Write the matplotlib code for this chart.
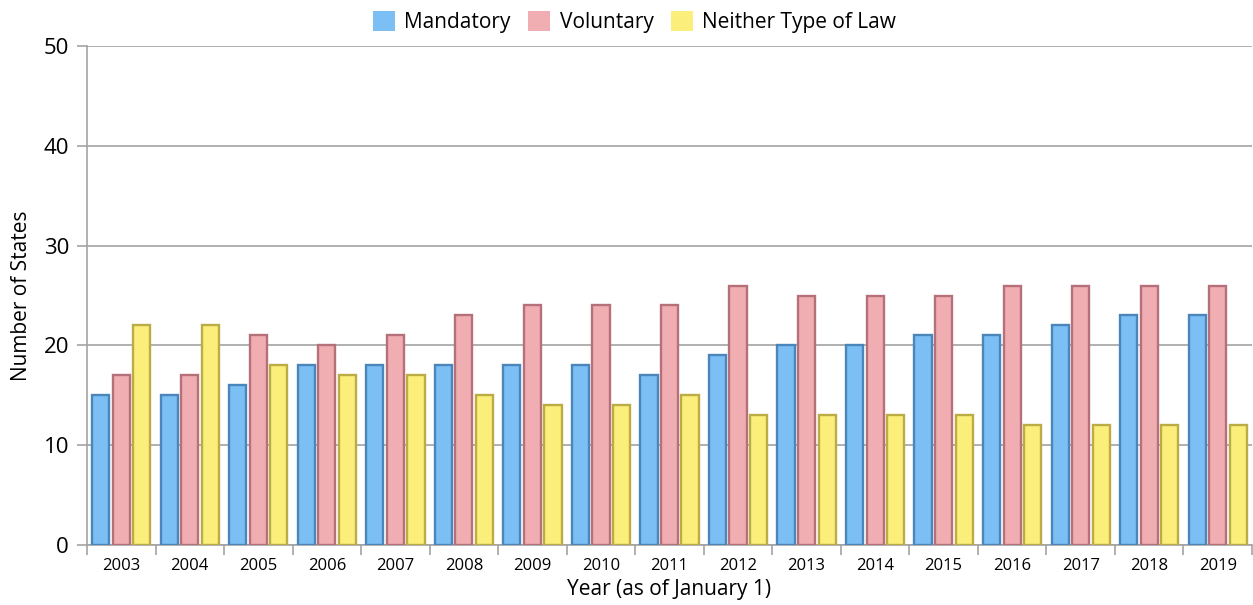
import matplotlib
matplotlib.use("Agg")
import matplotlib.pyplot as plt
import numpy as np

years = ["2003", "2004", "2005", "2006", "2007", "2008", "2009", "2010", "2011",
         "2012", "2013", "2014", "2015", "2016", "2017", "2018", "2019"]
mandatory = [15, 15, 16, 18, 18, 18, 18, 18, 17, 19, 20, 20, 21, 21, 22, 23, 23]
voluntary = [17, 17, 21, 20, 21, 23, 24, 24, 24, 26, 25, 25, 25, 26, 26, 26, 26]
neither = [22, 22, 18, 17, 17, 15, 14, 14, 15, 13, 13, 13, 13, 12, 12, 12, 12]

plt.rcParams['font.family'] = ['Open Sans', 'DejaVu Sans']

fig = plt.figure(figsize=(12.53, 6.05), dpi=100)
ax = fig.add_axes([87/1253, 1-545/605, 1-87/1253-1/1253, (545-46)/605])

x = np.arange(len(years))
w = 0.25
step = 0.3
series = [
    (mandatory, "Mandatory", "#7BBFF5", "#4A86BA"),
    (voluntary, "Voluntary", "#F0AEB2", "#B5707A"),
    (neither, "Neither Type of Law", "#FCEE7A", "#BBAC45"),
]
for i, (vals, lab, fc, ec) in enumerate(series):
    ax.bar(x + (i - 1) * step, vals, width=w, color=fc, edgecolor=ec,
           linewidth=1.7, label=lab, zorder=3)

ax.set_xlim(-0.5, len(years) - 0.5)
ax.set_ylim(0, 50)
ax.set_yticks([0, 10, 20, 30, 40, 50])
ax.yaxis.grid(True, color="#A3A3A3", linewidth=1.2, zorder=0)
ax.set_axisbelow(True)

ax.set_xticks(x)
ax.set_xticklabels(years, fontsize=12)
ax.set_xticks(np.arange(len(years) + 1) - 0.5, minor=True)
ax.tick_params(axis='x', which='major', length=0, pad=9)
ax.tick_params(axis='x', which='minor', length=7, color="#A3A3A3", width=1.2)
ax.tick_params(axis='y', length=7, color="#A3A3A3", width=1.2, labelsize=16, pad=6)

for s in ["top", "right"]:
    ax.spines[s].set_visible(False)
for s in ["left", "bottom"]:
    ax.spines[s].set_color("#A3A3A3")
    ax.spines[s].set_linewidth(1.2)

ax.set_xlabel("Year (as of January 1)", fontsize=15, labelpad=4)
ax.set_ylabel("Number of States", fontsize=15, labelpad=8)

leg = fig.legend(loc="upper center", bbox_to_anchor=(0.5065, 1.012), ncol=3,
                 frameon=False, fontsize=15, handlelength=1.05, handleheight=1.05,
                 columnspacing=0.85, handletextpad=0.45)
for h in leg.legend_handles:
    h.set_edgecolor("none")

fig.savefig("out.png", dpi=100)
